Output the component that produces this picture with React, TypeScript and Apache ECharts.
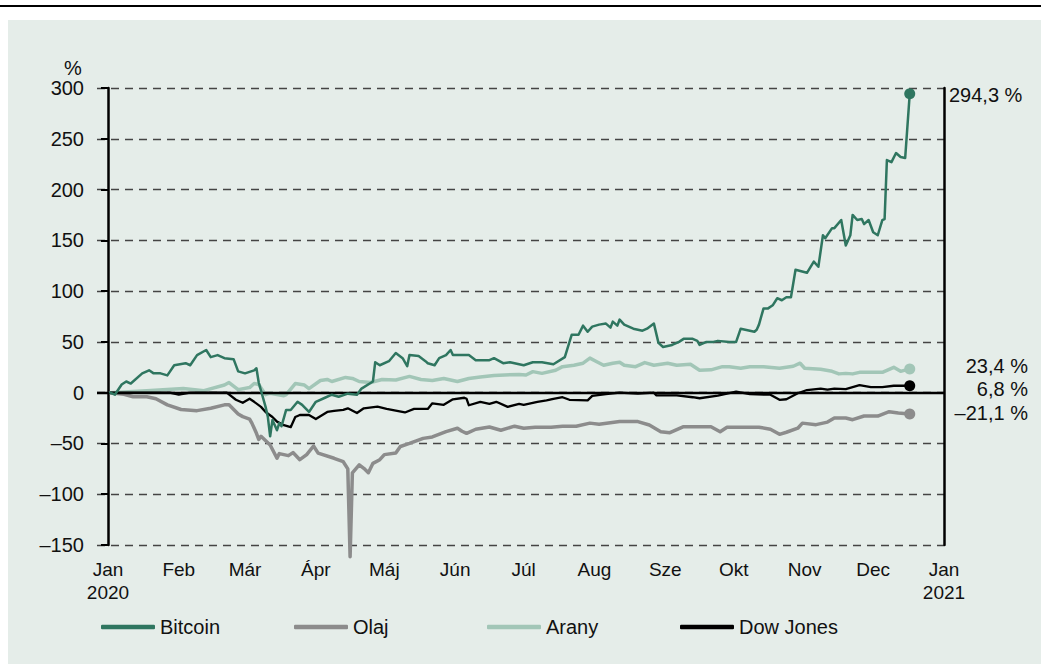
import React, { useEffect, useRef } from "react";
import * as echarts from "echarts";

// ---- data (days since 2020-01-01, values in %) ----
const seriesNames = ["Bitcoin", "Olaj", "Arany", "Dow Jones"];

const btcDays = [1, 3, 6, 8, 10, 15, 18, 20, 23, 26, 29, 34, 36, 39, 43, 45, 48, 51, 55, 57, 60, 64, 65, 66, 69, 70, 71, 72, 74, 75, 76, 78, 80, 83, 85, 88, 91, 95, 98, 101, 105, 109, 111, 116, 117, 119, 123, 126, 129, 131, 132, 136, 139, 140, 143, 145, 148, 150, 151, 153, 158, 161, 167, 169, 173, 176, 182, 186, 190, 195, 200, 203, 206, 208, 210, 212, 215, 218, 220, 221, 223, 224, 226, 230, 234, 236, 239, 241, 243, 247, 250, 252, 256, 258, 259, 262, 265, 267, 272, 275, 277, 283, 284, 285, 287, 289, 291, 293, 295, 297, 299, 301, 306, 309, 311, 313, 314, 317, 318, 321, 323, 325, 326, 328, 330, 331, 333, 335, 337, 339, 340, 341, 343, 345, 347, 349, 351];
const btcValues = [0, -2, 8, 11, 9, 19, 22, 19, 19, 17, 27, 29, 27, 37, 42, 35, 37, 34, 33, 21, 19, 22, 24, 10, -14, -24, -43, -27, -37, -30, -33, -17, -17, -9, -12, -19, -9, -5, -2, -4, -1, -2, 4, 11, 30, 27, 31, 39, 34, 26, 37, 36, 31, 29, 27, 34, 37, 42, 37, 37, 37, 32, 32, 34, 29, 30, 27, 30, 30, 28, 35, 57, 57, 66, 60, 65, 67, 68, 64, 70, 66, 72, 67, 63, 61, 63, 68, 49, 45, 47, 50, 53, 53, 51, 47, 50, 50, 51, 50, 50, 63, 60, 62, 67, 83, 83, 86, 93, 91, 94, 94, 121, 118, 129, 124, 155, 152, 162, 162, 170, 145, 155, 175, 170, 171, 166, 170, 158, 155, 170, 171, 229, 227, 236, 232, 231, 294.3];

const oilDays = [1, 7, 11, 17, 21, 26, 32, 39, 45, 51, 53, 57, 59, 62, 63, 65, 66, 67, 71, 74, 75, 79, 81, 84, 87, 90, 92, 99, 103, 105, 106, 107, 110, 112, 114, 116, 119, 121, 126, 128, 132, 138, 142, 148, 153, 155, 157, 161, 167, 172, 178, 182, 187, 194, 199, 205, 211, 215, 224, 232, 237, 242, 246, 252, 259, 264, 268, 271, 277, 285, 290, 294, 297, 302, 304, 310, 315, 318, 323, 326, 331, 337, 342, 346, 351];
const oilValues = [0, -1.6, -4, -4, -6, -12, -16.6, -17.7, -15.4, -12, -12, -21, -23.6, -26, -30, -40, -46, -43, -51.5, -64.6, -60, -62, -59, -66, -61, -52.5, -59.5, -64.6, -68, -75, -161.5, -79, -71, -74.5, -78.8, -69.6, -66, -61, -59.5, -53, -50, -45, -43.6, -38.4, -35, -38, -40, -36, -33.8, -37, -33, -35, -34, -34, -33, -33, -30, -31, -28.5, -28.5, -31.8, -38.4, -39.4, -33.5, -33.5, -33.5, -38.4, -34, -34, -34, -36, -41, -39, -35, -30, -31.5, -29, -25, -25, -26.6, -23, -23, -18.7, -20, -21.1];

const goldDays = [1, 17, 33, 42, 51, 53, 57, 62, 64, 66, 69, 71, 77, 78, 82, 86, 88, 93, 96, 98, 104, 107, 110, 115, 120, 126, 132, 137, 142, 147, 153, 158, 163, 169, 180, 183, 186, 190, 196, 199, 204, 208, 211, 214, 217, 221, 224, 226, 231, 235, 239, 245, 249, 255, 259, 264, 269, 272, 277, 281, 287, 294, 300, 303, 305, 312, 317, 320, 323, 326, 329, 335, 339, 344, 347, 351];
const goldValues = [0, 2, 4, 2, 7.5, 10, 3, 5, 9, 8, -2, -0.5, -3, -2, 9, 7.5, 4, 12, 13, 11, 15, 14, 11, 10, 13, 12.5, 16, 13, 12, 14, 11, 14, 15.5, 17, 18, 17.4, 20.7, 19, 22, 25.6, 27, 29, 34, 30.5, 27, 29, 30, 27, 25.6, 29.6, 27, 29, 27, 28, 22, 22.5, 25.6, 25.6, 24, 25.6, 25.6, 24, 26, 29, 24, 23, 21, 18.5, 19, 18.5, 20, 20, 20, 25, 21, 23.4];

const dowDays = [1, 27, 31, 36, 52, 56, 59, 62, 64, 67, 69, 72, 74, 77, 80, 82, 84, 88, 91, 96, 99, 103, 105, 109, 112, 118, 122, 130, 134, 140, 142, 147, 151, 156, 157, 158, 163, 167, 170, 175, 180, 182, 188, 192, 195, 199, 202, 210, 212, 218, 224, 232, 239, 240, 249, 256, 259, 267, 275, 281, 290, 294, 297, 302, 306, 312, 315, 318, 323, 329, 334, 339, 344, 351];
const dowValues = [0, 0, -2, 0, 0, -7, -10, -6, -9, -14, -19, -24, -28.5, -32, -34, -24, -22, -22, -26, -19, -18, -17, -15.4, -20, -15.4, -13.8, -16, -19.5, -16, -16, -10.5, -12, -6.5, -5, -6, -12.4, -9, -11, -9, -14, -11, -12, -9, -7.6, -6, -4.5, -7, -7.6, -3.2, -1.5, 0, -1, 0, -2.6, -2.6, -4.5, -5.5, -3, 1, -1.5, -2, -7, -6.5, -0.6, 2.6, 4, 3, 4, 3.5, 7.5, 5.5, 5.5, 6.8, 6.8];

const xTickDates = ["2020-01-01", "2020-02-01", "2020-03-01", "2020-04-01", "2020-05-01", "2020-06-01", "2020-07-01", "2020-08-01", "2020-09-01", "2020-10-01", "2020-11-01", "2020-12-01", "2021-01-01"];
const xTickLabels = ["Jan\n2020", "Feb", "Már", "Ápr", "Máj", "Jún", "Júl", "Aug", "Sze", "Okt", "Nov", "Dec", "Jan\n2021"];

const yMin = -150;
const yMax = 300;
const yStep = 50;

const colors = ["#2f7660", "#8c8c8c", "#a2c6b7", "#000000"];
const FONT = "'Liberation Sans', Arial, Helvetica, sans-serif";

const DAY = 86400000;
const T0 = Date.UTC(2020, 0, 1);
const parseDate = (s: string) => {
  const [y, m, d] = s.split("-").map(Number);
  return Date.UTC(y, m - 1, d);
};
const toDay = (s: string) => Math.round((parseDate(s) - T0) / DAY);
const minus = "\u2013";
const fmtNum = (v: number) => (v < 0 ? minus + String(Math.abs(v)) : String(v));
const fmtPct = (v: number) => (v < 0 ? minus : "") + Math.abs(v).toFixed(1).replace(".", ",") + " %";

export default function App() {
  const ref = useRef<HTMLDivElement>(null);

  useEffect(() => {
    document.body.style.margin = "0";
    if (!ref.current) return;
    const chart = echarts.init(ref.current, null, { renderer: "svg" });

    const tickDays = xTickDates.map(toDay);
    const allDays = [btcDays, oilDays, goldDays, dowDays];
    const allVals = [btcValues, oilValues, goldValues, dowValues];
    const widths = [2.5, 3.5, 3.5, 2.3];
    const zs = [5, 3, 3, 4];

    const series: any[] = seriesNames.map((name, i) => {
      const data = allDays[i].map((d, k) => [d, allVals[i][k]]);
      const last = data[data.length - 1];
      const s: any = {
        name,
        type: "line",
        data,
        symbol: "none",
        showSymbol: false,
        clip: false,
        z: zs[i],
        itemStyle: { color: colors[i] },
        lineStyle: { color: colors[i], width: widths[i], join: "round", cap: "round" },
        markPoint: {
          silent: true,
          symbol: "circle",
          symbolSize: 11,
          itemStyle: { color: colors[i] },
          label: { show: false },
          data: [{ coord: last }],
        },
      };
      if (name === "Dow Jones") {
        s.markLine = {
          silent: true,
          symbol: ["none", "none"],
          label: { show: false },
          lineStyle: { type: "solid", color: "#000", width: 2.3 },
          data: [{ yAxis: 0 }],
        };
      }
      return s;
    });

    const lastVals = allVals.map((a) => a[a.length - 1]);

    chart.setOption({
      animation: false,
      backgroundColor: "transparent",
      textStyle: { fontFamily: FONT },
      grid: { left: 97, right: 97, top: 88, bottom: 119, containLabel: false },
      legend: {
        data: seriesNames,
        left: 96,
        top: 611,
        itemWidth: 54,
        itemHeight: 4.5,
        itemGap: 0,
        icon: "roundRect",
        selectedMode: false,
        textStyle: { fontSize: 20, color: "#111", width: 134, lineHeight: 22, fontFamily: FONT },
      },
      xAxis: {
        type: "value",
        min: -4.8,
        max: tickDays[tickDays.length - 1],
        axisLine: { show: false },
        axisTick: { show: false },
        splitLine: { show: false },
        axisLabel: {
          customValues: tickDays,
          fontSize: 19,
          lineHeight: 23,
          color: "#111",
          margin: 13,
          fontFamily: FONT,
          formatter: (v: number) => {
            const k = tickDays.indexOf(Math.round(v));
            return k >= 0 ? xTickLabels[k] : "";
          },
        },
      },
      yAxis: [
        {
          type: "value",
          min: yMin,
          max: yMax,
          interval: yStep,
          axisLine: { show: true, lineStyle: { color: "#000", width: 2.5 } },
          axisTick: { show: true, length: 7, lineStyle: { color: "#000", width: 2 } },
          axisLabel: { fontSize: 20, color: "#111", margin: 13, formatter: fmtNum, fontFamily: FONT },
          splitLine: { show: true, lineStyle: { type: [8, 6], color: "#444", width: 1.3 } },
        },
        {
          type: "value",
          position: "right",
          min: yMin,
          max: yMax,
          interval: yStep,
          axisLine: { show: true, lineStyle: { color: "#000", width: 2.5 } },
          axisTick: { show: false },
          axisLabel: { show: false },
          splitLine: { show: false },
        },
      ],
      series,
      graphic: [
        { type: "rect", z: -100, silent: true, shape: { x: 8, y: 20, width: 1033, height: 644 }, style: { fill: "#e5ede9" } },
        { type: "line", z: -99, silent: true, shape: { x1: 0, y1: 6, x2: 1041, y2: 6 }, style: { stroke: "#000", lineWidth: 2 } },
        { type: "text", x: 73, y: 68, style: { text: "%", fontSize: 20, fill: "#111", align: "center", verticalAlign: "middle", fontFamily: FONT } },
        { type: "text", x: 949, y: 95, style: { text: fmtPct(lastVals[0]), fontSize: 20, fill: "#111", align: "left", verticalAlign: "middle", fontFamily: FONT } },
        { type: "text", x: 1028, y: 366, style: { text: fmtPct(lastVals[2]), fontSize: 20, fill: "#111", align: "right", verticalAlign: "middle", fontFamily: FONT } },
        { type: "text", x: 1028, y: 389, style: { text: fmtPct(lastVals[3]), fontSize: 20, fill: "#111", align: "right", verticalAlign: "middle", fontFamily: FONT } },
        { type: "text", x: 1028, y: 413, style: { text: fmtPct(lastVals[1]), fontSize: 20, fill: "#111", align: "right", verticalAlign: "middle", fontFamily: FONT } },
      ],
    });

    return () => chart.dispose();
  }, []);

  return <div ref={ref} style={{ width: 1041, height: 664 }} />;
}
